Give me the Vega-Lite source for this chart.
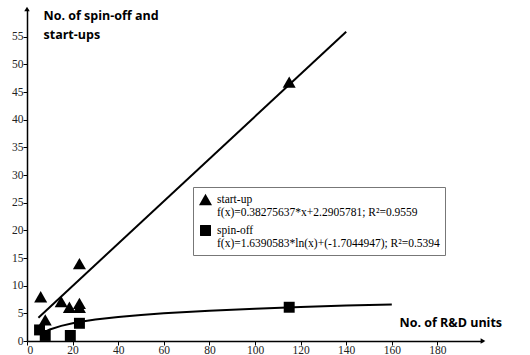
{
  "$schema": "https://vega.github.io/schema/vega-lite/v6.json",
  "width": 456,
  "height": 332,
  "autosize": "none",
  "padding": {"left": 27, "top": 9, "right": 47, "bottom": 14},
  "background": "white",
  "config": {"view": {"stroke": null}},
  "datasets": {
    "points": [
      {"x": 6, "y": 8, "series": "start-up"},
      {"x": 8, "y": 3.8, "series": "start-up"},
      {"x": 15, "y": 7.1, "series": "start-up"},
      {"x": 18.6, "y": 6.1, "series": "start-up"},
      {"x": 23, "y": 6.8, "series": "start-up"},
      {"x": 23, "y": 6.1, "series": "start-up"},
      {"x": 23, "y": 14, "series": "start-up"},
      {"x": 115, "y": 46.8, "series": "start-up"},
      {"x": 5.5, "y": 2, "series": "spin-off"},
      {"x": 8, "y": 1, "series": "spin-off"},
      {"x": 19, "y": 1, "series": "spin-off"},
      {"x": 23, "y": 3.2, "series": "spin-off"},
      {"x": 115, "y": 6.1, "series": "spin-off"}
    ],
    "trend": [
      {"x": 5, "y": 4.2, "series": "start-up"},
      {"x": 140, "y": 55.9, "series": "start-up"},
      {"x": 8, "y": 1.70, "series": "spin-off"},
      {"x": 10, "y": 2.07, "series": "spin-off"},
      {"x": 15, "y": 2.73, "series": "spin-off"},
      {"x": 20, "y": 3.21, "series": "spin-off"},
      {"x": 25, "y": 3.57, "series": "spin-off"},
      {"x": 30, "y": 3.87, "series": "spin-off"},
      {"x": 40, "y": 4.34, "series": "spin-off"},
      {"x": 50, "y": 4.71, "series": "spin-off"},
      {"x": 60, "y": 5.01, "series": "spin-off"},
      {"x": 80, "y": 5.48, "series": "spin-off"},
      {"x": 100, "y": 5.84, "series": "spin-off"},
      {"x": 120, "y": 6.14, "series": "spin-off"},
      {"x": 140, "y": 6.40, "series": "spin-off"},
      {"x": 160, "y": 6.61, "series": "spin-off"}
    ],
    "arrowUp": [{"x": 0, "y": 60}],
    "arrowRight": [{"x": 200, "y": 0}]
  },
  "encoding": {
    "x": {
      "field": "x", "type": "quantitative",
      "scale": {"domain": [0, 200], "nice": false},
      "axis": {
        "values": [0, 20, 40, 60, 80, 100, 120, 140, 160, 180],
        "grid": false,
        "domainColor": "black", "domainWidth": 1.5,
        "tickColor": "black", "tickSize": 4, "tickWidth": 1,
        "labelFont": "Liberation Serif", "labelFontSize": 11.5, "labelColor": "#222",
        "labelPadding": -1,
        "title": "No. of R&D units",
        "titleFont": "Open Sans", "titleFontSize": 12.5, "titleFontWeight": "bold", "titleColor": "black",
        "titleAnchor": "start", "titleAlign": "left", "titleBaseline": "middle",
        "titleX": 372, "titleY": -19
      }
    },
    "y": {
      "field": "y", "type": "quantitative",
      "scale": {"domain": [0, 60], "nice": false},
      "axis": {
        "values": [0, 5, 10, 15, 20, 25, 30, 35, 40, 45, 50, 55],
        "grid": false,
        "domainColor": "black", "domainWidth": 1.5,
        "tickColor": "black", "tickSize": 4, "tickWidth": 1,
        "labelFont": "Liberation Serif", "labelFontSize": 11.5, "labelColor": "#222",
        "labelPadding": 0,
        "title": ["No. of spin-off and", "start-ups"],
        "titleFont": "Open Sans", "titleFontSize": 12.5, "titleFontWeight": "bold", "titleColor": "black",
        "titleAngle": 0, "titleAlign": "left", "titleBaseline": "top",
        "titleX": 16, "titleY": 0, "titleLineHeight": 19
      }
    }
  },
  "layer": [
    {
      "data": {"name": "trend"},
      "mark": {"type": "line", "color": "black", "strokeWidth": 2},
      "encoding": {"detail": {"field": "series"}}
    },
    {
      "data": {"name": "points"},
      "mark": {"type": "point", "filled": true, "color": "black", "opacity": 1},
      "encoding": {
        "shape": {
          "field": "series", "type": "nominal",
          "scale": {"domain": ["start-up", "spin-off"], "range": ["triangle-up", "square"]},
          "legend": {
            "title": null,
            "orient": "none",
            "legendX": 166, "legendY": 178,
            "strokeColor": "#777", "fillColor": "white",
            "padding": 5,
            "symbolFillColor": "black", "symbolStrokeColor": "black",
            "rowPadding": 3,
            "labelFont": "Liberation Serif", "labelFontSize": 11.5, "labelColor": "black",
            "labelLimit": 400,
            "labelExpr": "datum.label == 'start-up' ? ['start-up', 'f(x)=0.38275637*x+2.2905781; R²=0.9559'] : ['spin-off', 'f(x)=1.6390583*ln(x)+(-1.7044947); R²=0.5394']"
          }
        },
        "size": {
          "field": "series", "type": "nominal",
          "scale": {"domain": ["start-up", "spin-off"], "range": [170, 120]}
        }
      }
    },
    {
      "data": {"name": "arrowUp"},
      "mark": {"type": "point", "shape": "triangle-up", "filled": true, "color": "black", "size": 30, "opacity": 1}
    },
    {
      "data": {"name": "arrowRight"},
      "mark": {"type": "point", "shape": "triangle-right", "filled": true, "color": "black", "size": 30, "opacity": 1}
    }
  ]
}
